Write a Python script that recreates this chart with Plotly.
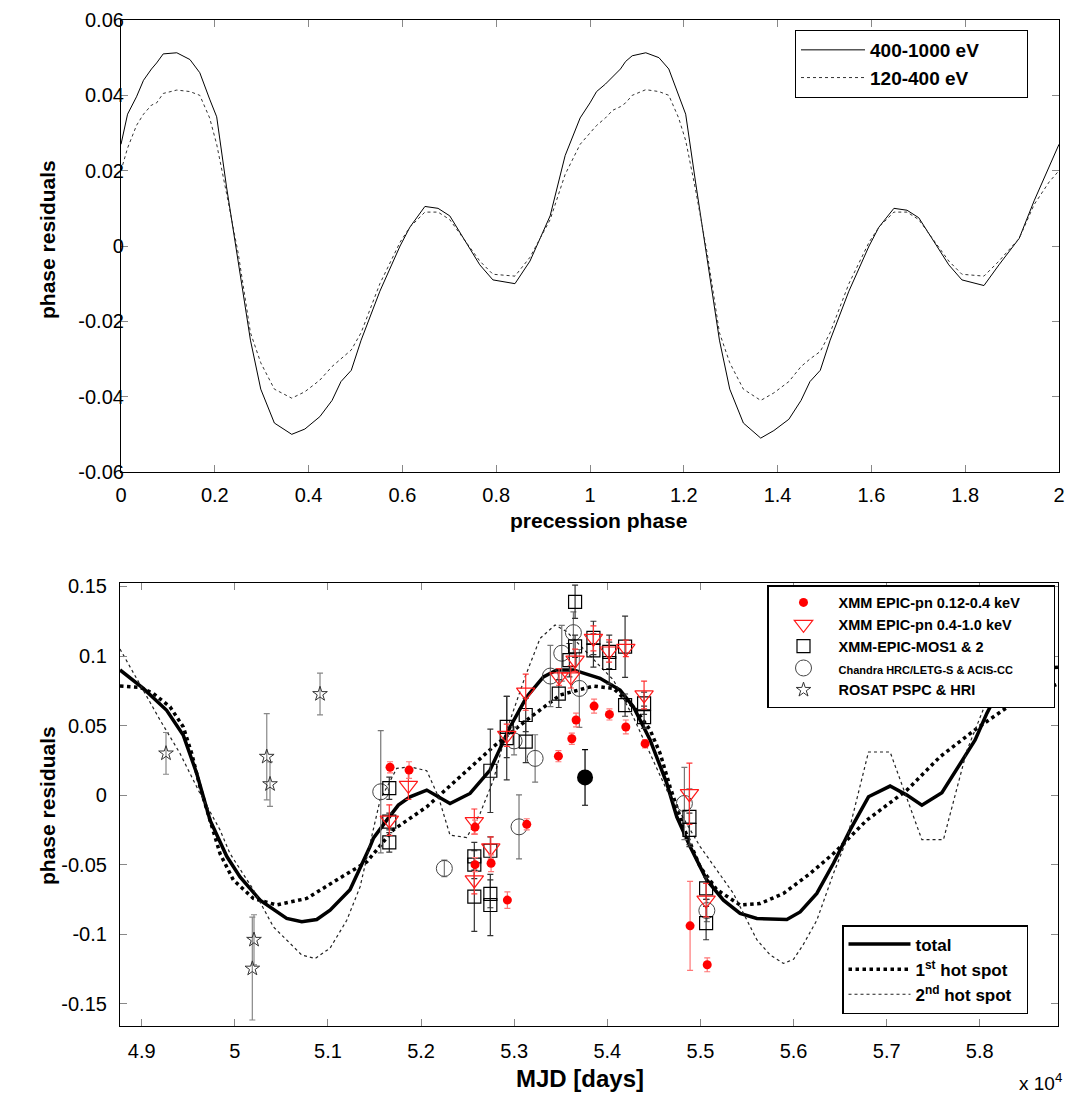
import plotly.graph_objects as go

FONT = "Liberation Sans, Arial, sans-serif"
# the page body has an 8 px margin, so the figure is 16 px smaller than the window
W, H = 1078, 1092
OFF = 8

# ---------------- top panel data ----------------
phase = [0.000, 0.014, 0.033, 0.048, 0.065, 0.076, 0.090, 0.119, 0.147, 0.168, 0.189, 0.204, 0.225, 0.250,
         0.276, 0.298, 0.327, 0.364, 0.392, 0.424, 0.450, 0.469, 0.491, 0.512, 0.552, 0.595, 0.616, 0.648,
         0.676, 0.701, 0.765, 0.793, 0.840, 0.872, 0.915, 0.947, 0.979,
         1.000, 1.014, 1.033, 1.048, 1.065, 1.076, 1.090, 1.119, 1.147, 1.168, 1.189, 1.204, 1.225, 1.250,
         1.276, 1.298, 1.327, 1.364, 1.392, 1.424, 1.450, 1.469, 1.491, 1.512, 1.552, 1.595, 1.616, 1.648,
         1.676, 1.701, 1.765, 1.793, 1.840, 1.872, 1.915, 1.947, 1.979, 2.000]
res_400_1000 = [0.027, 0.035, 0.0396, 0.044, 0.047, 0.0486, 0.051, 0.0513, 0.0495, 0.046, 0.039, 0.0343, 0.0157, -0.0045,
                -0.025, -0.038, -0.047, -0.050, -0.0486, -0.0453, -0.041, -0.036, -0.033, -0.025, -0.012, 0.000, 0.005, 0.0105,
                0.010, 0.008, -0.005, -0.009, -0.010, -0.004, 0.008, 0.024, 0.034,
                0.038, 0.041, 0.043, 0.045, 0.047, 0.049, 0.0505, 0.0513, 0.050, 0.047, 0.040, 0.035, 0.017, -0.004,
                -0.025, -0.038, -0.047, -0.051, -0.049, -0.046, -0.041, -0.036, -0.033, -0.025, -0.012, 0.000, 0.005, 0.010,
                0.0095, 0.0075, -0.005, -0.009, -0.0105, -0.005, 0.002, 0.012, 0.021, 0.027]
res_120_400 = [0.020, 0.026, 0.032, 0.035, 0.0374, 0.038, 0.0405, 0.0414, 0.041, 0.040, 0.034, 0.027, 0.014, -0.002,
               -0.023, -0.031, -0.038, -0.0404, -0.0387, -0.0356, -0.032, -0.030, -0.0276, -0.023, -0.010, 0.001, 0.005, 0.009,
               0.009, 0.007, -0.004, -0.0075, -0.008, -0.003, 0.007, 0.019, 0.027,
               0.030, 0.032, 0.034, 0.036, 0.037, 0.038, 0.040, 0.0415, 0.041, 0.040, 0.034, 0.028, 0.015, -0.002,
               -0.023, -0.031, -0.038, -0.041, -0.039, -0.036, -0.032, -0.030, -0.028, -0.023, -0.010, 0.001, 0.005, 0.009,
               0.009, 0.007, -0.004, -0.0075, -0.008, -0.004, 0.002, 0.011, 0.017, 0.020]
top_xticks = [0, 0.2, 0.4, 0.6, 0.8, 1, 1.2, 1.4, 1.6, 1.8, 2]
top_xtick_labels = ["0", "0.2", "0.4", "0.6", "0.8", "1", "1.2", "1.4", "1.6", "1.8", "2"]
top_yticks = [0.06, 0.04, 0.02, 0, -0.02, -0.04, -0.06]
top_ytick_labels = ["0.06", "0.04", "0.02", "0", "-0.02", "-0.04", "-0.06"]

# ---------------- bottom panel data ----------------
pn_soft_mjd = [51667, 51871, 52580, 52580, 52752, 52927, 53135, 53475, 53619, 53665, 53858, 54023, 54199, 54406, 54889, 55073]
pn_soft_res = [0.020, 0.018, -0.023, -0.050, -0.049, -0.0755, -0.021, 0.028, 0.0405, 0.054, 0.064, 0.058, 0.049, 0.037, -0.094, -0.122]
pn_soft_err = [0.004, 0.006, 0.005, 0.005, 0.006, 0.006, 0.004, 0.004, 0.004, 0.005, 0.005, 0.004, 0.005, 0.003, 0.032, 0.005]

pn_hard_mjd = [51659, 51864, 52572, 52572, 52749, 52920, 53124, 53482, 53608, 53654, 53851, 54019, 54199, 54395, 54882, 55061]
pn_hard_res = [-0.018, 0.007, -0.019, -0.061, -0.038, 0.043, 0.074, 0.085, 0.085, 0.097, 0.1127, 0.1036, 0.1055, 0.072, 0.001, -0.0755]
pn_hard_err = [0.011, 0.010, 0.009, 0.010, 0.008, 0.008, 0.013, 0.006, 0.008, 0.008, 0.009, 0.008, 0.006, 0.010, 0.022, 0.012]

mos_mjd = [51659, 51659, 51659, 52572, 52572, 52572, 52744, 52744, 52744, 52744, 52920, 52920, 53124, 53124, 53479,
           53593, 53654, 53654, 53851, 53851, 54021, 54021, 54191, 54191, 54395, 54395, 54882, 54882, 55061, 55061]
mos_res = [0.005, -0.019, -0.034, -0.044, -0.050, -0.073, 0.0175, -0.040, -0.071, -0.079, 0.049, 0.041, 0.0576, 0.0384, 0.073,
           0.097, 0.107, 0.139, 0.113, 0.104, 0.103, 0.095, 0.1067, 0.0647, 0.066, 0.056, -0.0156, -0.025, -0.067, -0.092]
mos_err = [0.008, 0.006, 0.007, 0.010, 0.010, 0.025, 0.030, 0.010, 0.010, 0.022, 0.022, 0.030, 0.012, 0.015, 0.010,
           0.012, 0.008, 0.012, 0.012, 0.012, 0.012, 0.015, 0.022, 0.008, 0.008, 0.008, 0.020, 0.012, 0.008, 0.012]

chandra_mjd = [51567, 52250, 52999, 53052, 53225, 53389, 53511, 53636, 53700, 54828, 55069]
chandra_res = [0.0024, -0.0527, 0.039, -0.0228, 0.0264, 0.0856, 0.102, 0.1168, 0.0767, -0.006, -0.083]
chandra_err = [0.044, 0.006, 0.010, 0.023, 0.017, 0.022, 0.020, 0.015, 0.028, 0.026, 0.008]

rosat_mjd = [49261, 50188, 50206, 50343, 50378, 50915]
rosat_res = [0.030, -0.1247, -0.104, 0.0276, 0.0079, 0.0727]
rosat_err = [0.015, 0.037, 0.018, 0.031, 0.016, 0.015]

big_mjd = [53761]
big_res = [0.0127]
big_err = [0.020]

total_mjd = [48767, 49017, 49268, 49447, 49591, 49734, 49913, 50056, 50271, 50557, 50719, 50880, 51023, 51237, 51452,
             51488, 51632, 51756, 51882, 52061, 52311, 52526, 52741, 52956, 53135, 53314, 53457, 53636, 53922, 54137,
             54280, 54460, 54639, 54746, 54889, 55068, 55247, 55426, 55606, 55928, 56071, 56250, 56429, 56608, 56805,
             57037, 57217, 57378, 57593, 57789, 57950, 58076, 58147, 58400, 58840]
total_res = [0.090, 0.0767, 0.061, 0.043, 0.0156, -0.018, -0.044, -0.0588, -0.0755, -0.0887, -0.091, -0.0894, -0.0827, -0.068, -0.037,
             -0.031, -0.018, -0.0072, -0.0012, 0.0036, -0.006, 0.0012, 0.018, 0.049, 0.0707, 0.085, 0.090, 0.090, 0.084, 0.0755,
             0.0635, 0.0396, 0.0084, -0.0156, -0.037, -0.061, -0.0755, -0.085, -0.0887, -0.0894, -0.084, -0.0707, -0.049, -0.025, -0.0012,
             0.0065, 0.0, -0.0072, 0.0017, 0.0228, 0.0396, 0.0588, 0.068, 0.090, 0.092]

spot1_mjd = [48767, 48982, 49125, 49304, 49447, 49537, 49626, 49734, 49841, 49984, 50199, 50450, 50772, 51094, 51417,
             51702, 52061, 52419, 52777, 53135, 53493, 53851, 54066, 54300, 54460, 54567, 54674, 54817, 54997, 55176,
             55426, 55641, 55892, 56179, 56429, 56787, 57217, 57574, 57969, 58398, 58840]
spot1_res = [0.0784, 0.0775, 0.073, 0.0635, 0.049, 0.030, 0.006, -0.018, -0.042, -0.061, -0.0743, -0.079, -0.0743, -0.061, -0.048,
             -0.025, -0.0084, 0.0132, 0.0348, 0.054, 0.072, 0.0784, 0.0767, 0.062, 0.0468, 0.030, 0.006, -0.0228, -0.0516, -0.068,
             -0.079, -0.078, -0.0707, -0.0563, -0.042, -0.018, 0.0036, 0.0276, 0.048, 0.068, 0.080]

spot2_mjd = [48767, 49017, 49197, 49411, 49626, 49841, 49948, 50199, 50414, 50719, 50862, 51023, 51202, 51345, 51452,
             51560, 51739, 51882, 52061, 52186, 52311, 52490, 52634, 52777, 52920, 53117, 53278, 53439, 53565, 53851,
             54066, 54280, 54639, 54997, 55354, 55606, 55750, 55892, 56000, 56100, 56250, 56429, 56572, 56805, 57037,
             57378, 57610, 57861, 58076, 58147, 58400]
spot2_res = [0.105, 0.0755, 0.054, 0.030, 0.0012, -0.025, -0.042, -0.068, -0.0947, -0.115, -0.1175, -0.110, -0.090, -0.066, -0.035,
             -0.0036, 0.0192, 0.0204, 0.0175, -0.0012, -0.0288, -0.0305, -0.0132, 0.0108, 0.0468, 0.085, 0.1127, 0.1223, 0.1175, 0.098,
             0.0827, 0.056, 0.0036, -0.037, -0.0707, -0.104, -0.115, -0.121, -0.118, -0.108, -0.090, -0.0563, -0.032, 0.031, 0.031,
             -0.032, -0.032, 0.032, 0.068, 0.0875, 0.110]

bot_xticks = [49000, 50000, 51000, 52000, 53000, 54000, 55000, 56000, 57000, 58000]
bot_xtick_labels = ["4.9", "5", "5.1", "5.2", "5.3", "5.4", "5.5", "5.6", "5.7", "5.8"]
bot_yticks = [0.15, 0.1, 0.05, 0, -0.05, -0.1, -0.15]
bot_ytick_labels = ["0.15", "0.1", "0.05", "0", "-0.05", "-0.1", "-0.15"]

# ---------------- figure ----------------
fig = go.Figure()


def px_x(p):
    return (p - OFF) / W


def px_y(p):
    return 1 - (p - OFF) / H


PAD = "&nbsp;" * 8

# top curves
fig.add_trace(go.Scatter(x=phase, y=res_400_1000, mode="lines", name="<b>400-1000 eV</b>" + PAD,
                         line=dict(color="black", width=1), xaxis="x", yaxis="y",
                         legend="legend", legendgroup="a"))
fig.add_trace(go.Scatter(x=phase, y=res_120_400, mode="lines", name="<b>120-400 eV</b>",
                         line=dict(color="#333333", width=1, dash="dot"), xaxis="x", yaxis="y",
                         legend="legend", legendgroup="b"))

# bottom model curves
fig.add_trace(go.Scatter(x=total_mjd, y=total_res, mode="lines", name="<b>total</b>",
                         line=dict(color="black", width=3.5), xaxis="x2", yaxis="y2",
                         legend="legend3", legendgroup="t"))
fig.add_trace(go.Scatter(x=spot1_mjd, y=spot1_res, mode="lines", name="<b>1<sup>st</sup> hot spot</b>",
                         line=dict(color="black", width=3.5, dash="dot"), xaxis="x2", yaxis="y2",
                         legend="legend3", legendgroup="s1"))
fig.add_trace(go.Scatter(x=spot2_mjd, y=spot2_res, mode="lines", name="<b>2<sup>nd</sup> hot spot</b>" + "&nbsp;" * 2,
                         line=dict(color="#222222", width=1.2, dash="dot"), xaxis="x2", yaxis="y2",
                         legend="legend3", legendgroup="s2"))


def err(arr, color):
    return dict(type="data", array=arr, visible=True, color=color, thickness=1.2, width=3)


fig.add_trace(go.Scatter(x=rosat_mjd, y=rosat_res, mode="markers", name="<b>ROSAT PSPC &amp; HRI</b>",
                         marker=dict(symbol="star-open", size=11, color="#333333", line=dict(width=1)),
                         error_y=err(rosat_err, "#888888"), xaxis="x2", yaxis="y2",
                         legend="legend2", legendgroup="g5", legendrank=5))
fig.add_trace(go.Scatter(x=chandra_mjd, y=chandra_res, mode="markers",
                         name="<span style='font-size:11px'><b>Chandra HRC/LETG-S &amp; ACIS-CC</b></span>",
                         marker=dict(symbol="circle-open", size=16, color="#444444", line=dict(width=1)),
                         error_y=err(chandra_err, "#777777"), xaxis="x2", yaxis="y2",
                         legend="legend2", legendgroup="g4", legendrank=4))
fig.add_trace(go.Scatter(x=mos_mjd, y=mos_res, mode="markers", name="<b>XMM-EPIC-MOS1 &amp; 2</b>",
                         marker=dict(symbol="square-open", size=13, color="black", line=dict(width=1.2)),
                         error_y=err(mos_err, "#333333"), xaxis="x2", yaxis="y2",
                         legend="legend2", legendgroup="g3", legendrank=3))
fig.add_trace(go.Scatter(x=pn_hard_mjd, y=pn_hard_res, mode="markers", name="<b>XMM EPIC-pn 0.4-1.0 keV</b>",
                         marker=dict(symbol="triangle-down-open", size=16, color="#ff1a1a", line=dict(width=1.2)),
                         error_y=err(pn_hard_err, "#ff3333"), xaxis="x2", yaxis="y2",
                         legend="legend2", legendgroup="g2", legendrank=2))
fig.add_trace(go.Scatter(x=pn_soft_mjd, y=pn_soft_res, mode="markers",
                         name="<b>XMM EPIC-pn 0.12-0.4 keV</b>" + "&nbsp;" * 7,
                         marker=dict(symbol="circle", size=9, color="#ff0000"),
                         error_y=err(pn_soft_err, "#ff7777"), xaxis="x2", yaxis="y2",
                         legend="legend2", legendgroup="g1", legendrank=1))
fig.add_trace(go.Scatter(x=big_mjd, y=big_res, mode="markers", showlegend=False,
                         marker=dict(symbol="circle", size=16, color="black"),
                         error_y=err(big_err, "black"), xaxis="x2", yaxis="y2"))

tickfont = dict(family=FONT, size=20, color="black")
axis_common = dict(showline=True, linecolor="black", linewidth=1.2, mirror="ticks", ticks="inside",
                   ticklen=7, tickcolor="#888888", tickwidth=1, showgrid=False, zeroline=False,
                   tickfont=tickfont, automargin=False)


def label(text, x, y, size, angle=0):
    return dict(text=text, x=px_x(x), y=px_y(y), xref="paper", yref="paper", xanchor="center",
                yanchor="middle", textangle=angle, showarrow=False, font=dict(family=FONT, size=size, color="black"))


fig.update_layout(
    width=W, height=H, margin=dict(l=0, r=0, t=0, b=0),
    paper_bgcolor="white", plot_bgcolor="white",
    font=dict(family=FONT, color="black"),
    xaxis=dict(domain=[px_x(121), px_x(1059)], anchor="y", range=[0, 2], tickmode="array",
               tickvals=top_xticks, ticktext=top_xtick_labels, ticklabelstandoff=5, **axis_common),
    yaxis=dict(domain=[px_y(472), px_y(20)], anchor="x", range=[-0.06, 0.06], tickmode="array",
               tickvals=top_yticks, ticktext=top_ytick_labels, ticklabelstandoff=-8, **axis_common),
    xaxis2=dict(domain=[px_x(120), px_x(1058)], anchor="y2", range=[48767, 58840], tickmode="array",
                tickvals=bot_xticks, ticktext=bot_xtick_labels, ticklabelstandoff=7, **axis_common),
    yaxis2=dict(domain=[px_y(1026), px_y(583)], anchor="x2", range=[-0.166, 0.1525], tickmode="array",
                tickvals=bot_yticks, ticktext=bot_ytick_labels, ticklabelstandoff=8, **axis_common),
    legend=dict(x=px_x(795), y=px_y(30), xanchor="left", yanchor="top", bgcolor="white",
                bordercolor="black", borderwidth=1, font=dict(family=FONT, size=19, color="black"),
                itemwidth=64, tracegroupgap=6, traceorder="normal"),
    legend2=dict(x=px_x(767), y=px_y(585), xanchor="left", yanchor="top", bgcolor="white",
                 bordercolor="black", borderwidth=1.5, font=dict(family=FONT, size=14.5, color="black"),
                 itemwidth=60, tracegroupgap=2, traceorder="normal"),
    legend3=dict(x=px_x(842), y=px_y(925), xanchor="left", yanchor="top", bgcolor="white",
                 bordercolor="black", borderwidth=1.5, font=dict(family=FONT, size=17, color="black"),
                 itemwidth=62, tracegroupgap=0, traceorder="normal"),
    annotations=[
        label("<b>phase residuals</b>", 47, 240, 21, -90),
        label("<b>precession phase</b>", 598, 520, 21),
        label("<b>phase residuals</b>", 47, 806, 21, -90),
        label("<b>MJD [days]</b>", 580, 1078, 24),
        label("x 10<sup>4</sup>", 1040, 1082, 19),
    ],
)

fig.write_html("out.html")
